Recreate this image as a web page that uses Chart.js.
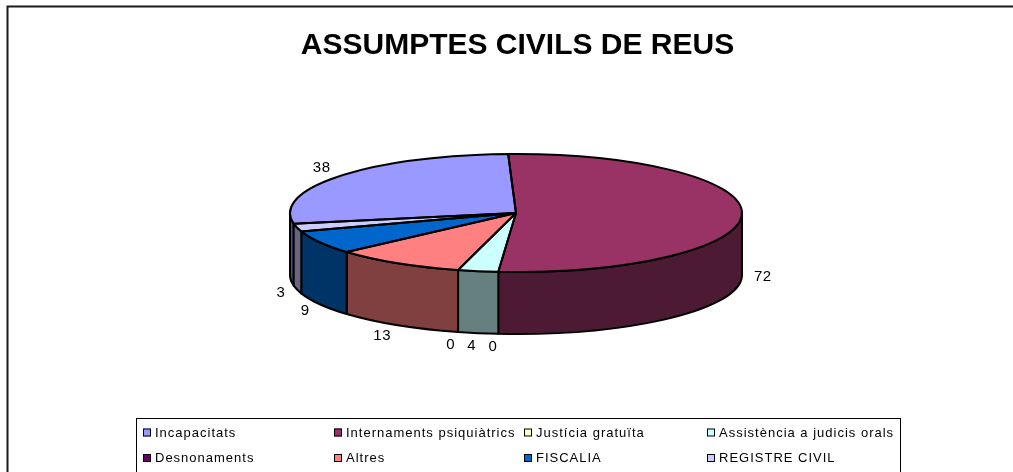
<!DOCTYPE html>
<html>
<head>
<meta charset="utf-8">
<title>Assumptes civils de Reus</title>
<script src="https://cdn.jsdelivr.net/npm/chart.js@4.4.1/dist/chart.umd.min.js"></script>
<style>
    html, body { margin: 0; padding: 0; background: #fff; }
    canvas { display: block; }
</style>
</head>
<body>
<canvas id="civilsChart" width="1013" height="472"></canvas>
<script>
const categories = ['Incapacitats', 'Internaments psiquiàtrics', 'Justícia gratuïta', 'Assistència a judicis orals',
    'Desnonaments', 'Altres', 'FISCALIA', 'REGISTRE CIVIL'];
const assumptes = [38, 72, 0, 4, 0, 13, 9, 3];

// top face colours and the darker tone used for the pie wall
const topColors = ['#9999FF', '#993366', '#FFFFCC', '#CCFFFF', '#660066', '#FF8080', '#0066CC', '#CCCCFF'];
const sideColors = ['#4D4D80', '#4D1A33', '#808066', '#668080', '#330033', '#804040', '#003366', '#666680'];

// where the tilted pie sits on the canvas
const PIE = { cx: 516, cy: 213, rx: 226, ry: 59, depth: 62 };
const FONT = '"Liberation Sans", Arial, sans-serif';

// fake 3d: walls drawn by hand, top face is Chart.js' own pie squashed into an ellipse
const pie3d = {
    id: 'pie3d',
    beforeDatasetsDraw(chart) {
        const ctx = chart.ctx;
        const meta = chart.getDatasetMeta(0);
        ctx.save();
        ctx.lineWidth = 2;
        ctx.strokeStyle = '#000';
        ctx.lineJoin = 'round';
        meta.data.forEach((arc, i) => {
            if (arc.endAngle - arc.startAngle <= 0) return;
            // only the front half (sin > 0) shows its wall
            for (let k = -1; k <= 2; k++) {
                const lo = Math.max(arc.startAngle, k * 2 * Math.PI);
                const hi = Math.min(arc.endAngle, k * 2 * Math.PI + Math.PI);
                if (hi <= lo) continue;
                ctx.beginPath();
                ctx.ellipse(PIE.cx, PIE.cy, PIE.rx, PIE.ry, 0, lo, hi);
                ctx.ellipse(PIE.cx, PIE.cy + PIE.depth, PIE.rx, PIE.ry, 0, hi, lo, true);
                ctx.closePath();
                ctx.fillStyle = sideColors[i];
                ctx.fill();
                ctx.stroke();
            }
        });
        ctx.restore();

        const a = meta.data[0];
        ctx.save();
        ctx.translate(PIE.cx, PIE.cy);
        ctx.scale(PIE.rx / a.outerRadius, PIE.ry / a.outerRadius);
        ctx.translate(-a.x, -a.y);
    },
    afterDatasetsDraw(chart) {
        const ctx = chart.ctx;
        ctx.restore();
        const meta = chart.getDatasetMeta(0);
        ctx.save();
        ctx.lineWidth = 2;
        ctx.strokeStyle = '#000';
        ctx.lineJoin = 'round';
        meta.data.forEach(arc => {
            if (arc.endAngle - arc.startAngle <= 0) return;
            ctx.beginPath();
            ctx.moveTo(PIE.cx, PIE.cy);
            ctx.ellipse(PIE.cx, PIE.cy, PIE.rx, PIE.ry, 0, arc.startAngle, arc.endAngle);
            ctx.closePath();
            ctx.stroke();
        });

        // value labels just outside the rim
        ctx.font = '15px ' + FONT;
        ctx.letterSpacing = '0.5px';
        ctx.fillStyle = '#000';
        ctx.textAlign = 'center';
        ctx.textBaseline = 'middle';
        const values = chart.data.datasets[0].data;
        meta.data.forEach((arc, i) => {
            const mid = (arc.startAngle + arc.endAngle) / 2;
            const c = Math.cos(mid), s = Math.sin(mid);
            let x = PIE.cx + PIE.rx * c;
            let y = PIE.cy + PIE.ry * s;
            if (s > 0) y += PIE.depth;
            const text = String(values[i]);
            const half = ctx.measureText(text).width / 2;
            x += 12 * c + Math.sign(c) * half;
            y += 13 * s;
            ctx.fillText(text, x, y);
        });
        ctx.restore();
    }
};

// outer frame and the boxed four-column legend
const frameLegend = {
    id: 'frameLegend',
    afterDraw(chart) {
        const ctx = chart.ctx;
        ctx.save();
        ctx.strokeStyle = '#1a1a1a';
        ctx.lineWidth = 2;
        ctx.strokeRect(7.5, 6.5, 1100, 600);

        ctx.strokeStyle = '#000';
        ctx.lineWidth = 1;
        ctx.strokeRect(136.5, 418.5, 764, 100);

        ctx.font = '13px ' + FONT;
        ctx.letterSpacing = '1px';
        ctx.textBaseline = 'middle';
        ctx.textAlign = 'left';
        const colX = [143, 334, 524, 707];
        const rowY = [432.5, 458];
        chart.data.labels.forEach((label, i) => {
            const x = colX[i % 4];
            const y = rowY[Math.floor(i / 4)];
            ctx.fillStyle = topColors[i];
            ctx.fillRect(x, y - 4, 8, 8);
            ctx.strokeRect(x + 0.5, y - 3.5, 7, 7);
            ctx.fillStyle = '#000';
            ctx.fillText(label, x + 12, y + 0.5);
        });
        ctx.restore();
    }
};

const civilsChart = new Chart(document.getElementById('civilsChart'), {
    type: 'pie',
    data: {
        labels: categories,
        datasets: [{
            label: 'Assumptes civils',
            data: assumptes,
            backgroundColor: topColors,
            borderWidth: 0,
            hoverOffset: 0
        }]
    },
    options: {
        responsive: false,
        animation: false,
        events: [],
        rotation: 259.6,
        layout: {
            padding: { left: 22, bottom: 60 }
        },
        plugins: {
            legend: { display: false },
            tooltip: { enabled: false },
            title: {
                display: true,
                text: 'ASSUMPTES CIVILS DE REUS',
                color: '#000',
                font: { family: FONT, size: 30, weight: 'bold' },
                padding: { top: 28, bottom: 10 }
            }
        }
    },
    plugins: [pie3d, frameLegend]
});
</script>
</body>
</html>
